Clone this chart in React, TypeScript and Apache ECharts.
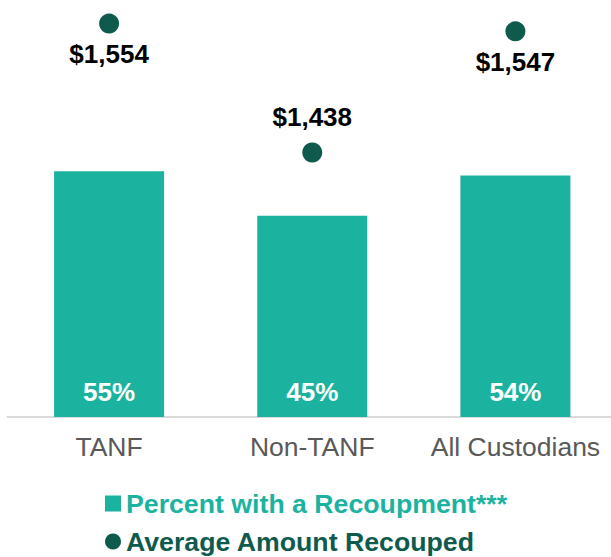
import React, { useEffect, useRef } from "react";
import * as echarts from "echarts";

const categories = ["TANF", "Non-TANF", "All Custodians"];
const percentWithRecoupment = [55, 45, 54];
const averageAmountRecouped = [1554, 1438, 1547];
const amountLabelBelow = [true, false, true];
const barSeriesName = "Percent with a Recoupment***";
const dotSeriesName = "Average Amount Recouped";

const FONT = "'Liberation Sans', Arial, sans-serif";
const BAR_COLOR = "#1BB3A0";
const DOT_COLOR = "#0E5B4E";

export default function App() {
  const ref = useRef<HTMLDivElement>(null);
  useEffect(() => {
    const chart = echarts.init(ref.current!, undefined, { renderer: "svg" });
    chart.setOption({
      animation: false,
      textStyle: { fontFamily: FONT },
      grid: { left: 7.5, right: 0, top: 14.7, bottom: 140 },
      legend: {
        orient: "vertical",
        left: 105,
        top: 490,
        height: 100,
        padding: 0,
        itemGap: 11,
        itemWidth: 16,
        itemHeight: 16,
        textStyle: { fontSize: 26.7, fontWeight: "bold", fontFamily: FONT, lineHeight: 26 },
        data: [
          { name: barSeriesName, icon: "rect", textStyle: { color: BAR_COLOR } },
          { name: dotSeriesName, icon: "circle", textStyle: { color: DOT_COLOR } },
        ],
      },
      xAxis: {
        type: "category",
        data: categories,
        axisLine: { lineStyle: { color: "#D9D9D9", width: 2 } },
        axisTick: { show: false },
        axisLabel: {
          color: "#595959",
          fontSize: 26.5,
          margin: 16,
          fontFamily: FONT,
          interval: 0,
          hideOverlap: false,
        },
      },
      yAxis: [
        { type: "value", min: 0, max: 90, show: false },
        { type: "value", min: 1200, max: 1562, show: false },
      ],
      series: [
        {
          name: barSeriesName,
          type: "bar",
          yAxisIndex: 0,
          data: percentWithRecoupment,
          barWidth: 110,
          itemStyle: { color: BAR_COLOR },
          label: {
            show: true,
            position: "insideBottom",
            distance: 12,
            color: "#FFFFFF",
            fontSize: 26,
            fontWeight: "bold",
            fontFamily: FONT,
            formatter: (p: any) => p.value + "%",
          },
        },
        {
          name: dotSeriesName,
          type: "scatter",
          yAxisIndex: 1,
          symbol: "circle",
          symbolSize: 20,
          itemStyle: { color: DOT_COLOR, opacity: 1 },
          data: averageAmountRecouped.map((v, i) => ({
            value: v,
            label: amountLabelBelow[i]
              ? { position: "bottom", distance: 7.5 }
              : { position: "top", distance: 12.5 },
          })),
          label: {
            show: true,
            color: "#000000",
            opacity: 1,
            fontSize: 26,
            fontWeight: "bold",
            fontFamily: FONT,
            formatter: (p: any) => "$" + Number(p.value).toLocaleString("en-US"),
          },
        },
      ],
    });
    return () => chart.dispose();
  }, []);
  return (
    <div style={{ position: "fixed", left: 0, top: 0, width: 611, height: 557, overflow: "hidden", background: "#fff" }}>
      <div ref={ref} style={{ width: 617, height: 557 }} />
    </div>
  );
}
